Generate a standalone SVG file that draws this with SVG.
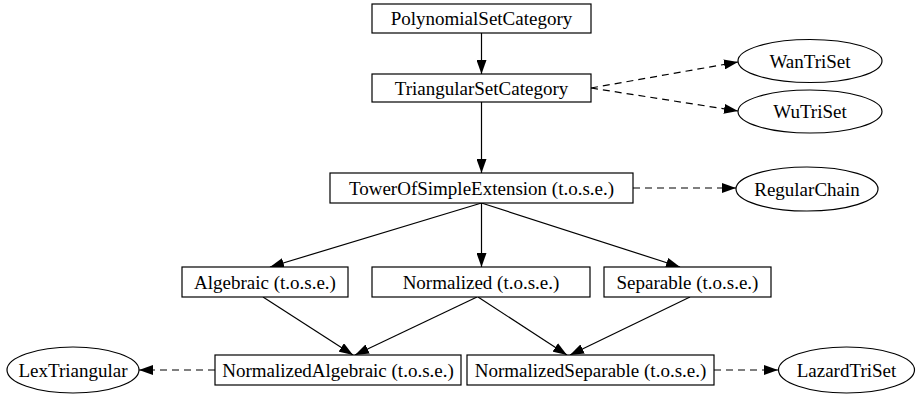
<svg xmlns="http://www.w3.org/2000/svg" width="916" height="395" viewBox="0 0 916 395">
<defs>
<marker id="ah" viewBox="0 0 14 10" refX="14" refY="5" markerWidth="14" markerHeight="10" markerUnits="userSpaceOnUse" orient="auto">
<path d="M0,0 L14,5 L0,10 z" fill="#000"/>
</marker>
<style>
.n rect, .n ellipse { fill: #fff; stroke: #000; stroke-width: 1.2; }
.n text { font-family: "Liberation Serif", "Times New Roman", Times, serif; font-size: 19px; fill: #000; text-anchor: middle; }
.e line { stroke: #000; stroke-width: 1.2; marker-end: url(#ah); }
.e .d { stroke-dasharray: 7 5; }
</style>
</defs>
<rect width="916" height="395" fill="#fff"/>
<g class="e" id="edges">
<line x1="481.5" y1="33" x2="481.5" y2="74"/>
<line class="d" x1="591" y1="88" x2="738" y2="62"/>
<line class="d" x1="591" y1="88" x2="738" y2="111"/>
<line x1="481.5" y1="102" x2="481.5" y2="173"/>
<line class="d" x1="633" y1="188" x2="736" y2="188"/>
<line x1="481.5" y1="203" x2="270" y2="267"/>
<line x1="481.5" y1="203" x2="481.5" y2="267"/>
<line x1="481.5" y1="203" x2="680" y2="267"/>
<line x1="263" y1="297" x2="353" y2="355"/>
<line x1="477" y1="297" x2="355" y2="355"/>
<line x1="478" y1="297" x2="567" y2="355"/>
<line x1="690" y1="297" x2="570" y2="355"/>
<line class="d" x1="215" y1="370" x2="139" y2="370"/>
<line class="d" x1="714" y1="370" x2="778" y2="370"/>
</g>
<g class="n" id="PolynomialSetCategory"><rect x="372" y="4" width="219" height="29"/><text x="481.5" y="25">PolynomialSetCategory</text></g>
<g class="n" id="TriangularSetCategory"><rect x="372" y="74" width="219" height="28"/><text x="481.5" y="94.5">TriangularSetCategory</text></g>
<g class="n" id="WanTriSet"><ellipse cx="810" cy="61" rx="72" ry="21.5"/><text x="810" y="67.5">WanTriSet</text></g>
<g class="n" id="WuTriSet"><ellipse cx="810" cy="111.5" rx="72" ry="21.5"/><text x="810" y="118">WuTriSet</text></g>
<g class="n" id="TowerOfSimpleExtension"><rect x="330" y="173" width="303" height="30"/><text x="481.5" y="194.5">TowerOfSimpleExtension (t.o.s.e.)</text></g>
<g class="n" id="RegularChain"><ellipse cx="807" cy="189" rx="71" ry="22"/><text x="807" y="195.5">RegularChain</text></g>
<g class="n" id="Algebraic"><rect x="182" y="267" width="166" height="30"/><text x="265" y="288.5">Algebraic (t.o.s.e.)</text></g>
<g class="n" id="Normalized"><rect x="372" y="267" width="218" height="30"/><text x="481" y="288.5">Normalized (t.o.s.e.)</text></g>
<g class="n" id="Separable"><rect x="604" y="267" width="167" height="30"/><text x="687.5" y="288.5">Separable (t.o.s.e.)</text></g>
<g class="n" id="NormalizedAlgebraic"><rect x="215" y="355" width="246" height="30"/><text x="338" y="376.5">NormalizedAlgebraic (t.o.s.e.)</text></g>
<g class="n" id="NormalizedSeparable"><rect x="467" y="355" width="247" height="30"/><text x="590.5" y="376.5">NormalizedSeparable (t.o.s.e.)</text></g>
<g class="n" id="LexTriangular"><ellipse cx="73" cy="370" rx="66" ry="23"/><text x="73" y="376.5">LexTriangular</text></g>
<g class="n" id="LazardTriSet"><ellipse cx="846.5" cy="370" rx="68" ry="23"/><text x="846.5" y="376.5">LazardTriSet</text></g>
</svg>
